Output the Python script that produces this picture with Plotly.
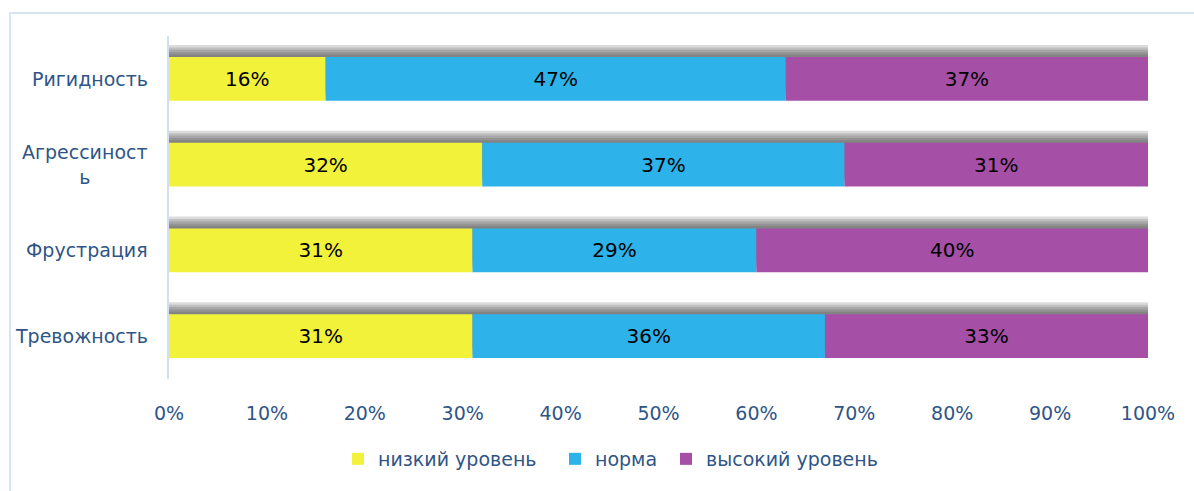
import plotly.graph_objects as go

# ---- data ----
categories = ["Тревожность", "Фрустрация", "Агрессиность", "Ригидность"]
category_labels = ["Тревожность", "Фрустрация", "Агрессиност<br>ь", "Ригидность"]
series_names = ["низкий уровень", "норма", "высокий уровень"]
low = [31, 31, 32, 16]
norm = [36, 29, 37, 47]
high = [33, 40, 31, 37]
x_ticks = [0, 10, 20, 30, 40, 50, 60, 70, 80, 90, 100]

series_values = [low, norm, high]
colors = ["#f2f23a", "#2db2ea", "#a54fa6"]

W, H = 1194, 491
ML, MT = 169, 36
PW, PH = 979, 343
MR = W - ML - PW
MB = H - MT - PH

BAR_W = 0.51
TEXT_COLOR = "#2f5587"
FONT = "DejaVu Sans"


def px_x(p):
    return (p - ML) / PW


def px_y(p):
    return (H - MB - p) / PH


fig = go.Figure()

# shadow layers above each bar
totals = [a + b + c for a, b, c in zip(low, norm, high)]
for d in [0.028, 0.056, 0.084, 0.112, 0.14]:
    fig.add_trace(go.Bar(
        y=categories, x=totals, base=[0] * len(categories), orientation="h",
        width=BAR_W, offset=-BAR_W / 2 + d,
        marker=dict(color="rgba(60,60,60,0.18)", line=dict(width=0)),
        showlegend=False, hoverinfo="skip",
    ))

# stacked segments
legend_ids = ["legend", "legend2", "legend3"]
cum = [0] * len(categories)
for name, vals, col, lg in zip(series_names, series_values, colors, legend_ids):
    fig.add_trace(go.Bar(
        y=categories, x=vals, base=list(cum), orientation="h",
        name=name, width=BAR_W, offset=-BAR_W / 2,
        marker=dict(color=col, line=dict(width=0)),
        text=[f"{v}%" for v in vals], textposition="inside",
        insidetextanchor="middle", textangle=0,
        textfont=dict(color="black", size=20, family=FONT),
        hoverinfo="skip", legend=lg,
    ))
    cum = [c + v for c, v in zip(cum, vals)]

# category labels
for cat, lab in zip(categories, category_labels):
    fig.add_annotation(
        x=0, xref="paper", y=cat, yref="y", xshift=-19,
        xanchor="right", yanchor="middle", align="center",
        text=lab, showarrow=False,
        font=dict(color=TEXT_COLOR, size=19, family=FONT),
    )

# outer chart border
fig.add_shape(type="rect", xref="paper", yref="paper",
              x0=px_x(10), x1=px_x(1215), y0=px_y(510), y1=px_y(13),
              line=dict(color="#d6e4f6", width=2), fillcolor="rgba(0,0,0,0)", layer="below")

legend_common = dict(
    orientation="h", xref="paper", xanchor="left", yanchor="middle",
    y=px_y(459), font=dict(size=19, color=TEXT_COLOR, family=FONT),
    itemwidth=30, bgcolor="rgba(0,0,0,0)",
)
legend_square_left = [353, 570, 681]

fig.update_layout(
    width=W, height=H,
    margin=dict(l=ML, r=MR, t=MT, b=MB),
    barmode="overlay",
    paper_bgcolor="white", plot_bgcolor="white",
    font=dict(family=FONT, color=TEXT_COLOR),
    xaxis=dict(
        range=[0, 100], tickvals=x_ticks, ticktext=[f"{t}%" for t in x_ticks],
        showgrid=False, zeroline=False, showline=False,
        ticks="outside", ticklen=17, tickcolor="rgba(0,0,0,0)",
        tickfont=dict(size=19, color=TEXT_COLOR, family=FONT),
        fixedrange=True,
    ),
    yaxis=dict(
        type="category", categoryorder="array", categoryarray=categories,
        range=[-0.5, len(categories) - 0.5],
        showticklabels=False, showgrid=False, zeroline=False,
        showline=True, linecolor="#d0dff2", linewidth=2,
        fixedrange=True,
    ),
    legend=dict(legend_common, x=px_x(legend_square_left[0] - 15)),
    legend2=dict(legend_common, x=px_x(legend_square_left[1] - 15)),
    legend3=dict(legend_common, x=px_x(legend_square_left[2] - 15)),
    showlegend=True,
)

fig.write_html(
    "out.html",
    config={"displayModeBar": False},
    post_script="document.body.style.margin='0';document.body.style.overflow='hidden';",
)
